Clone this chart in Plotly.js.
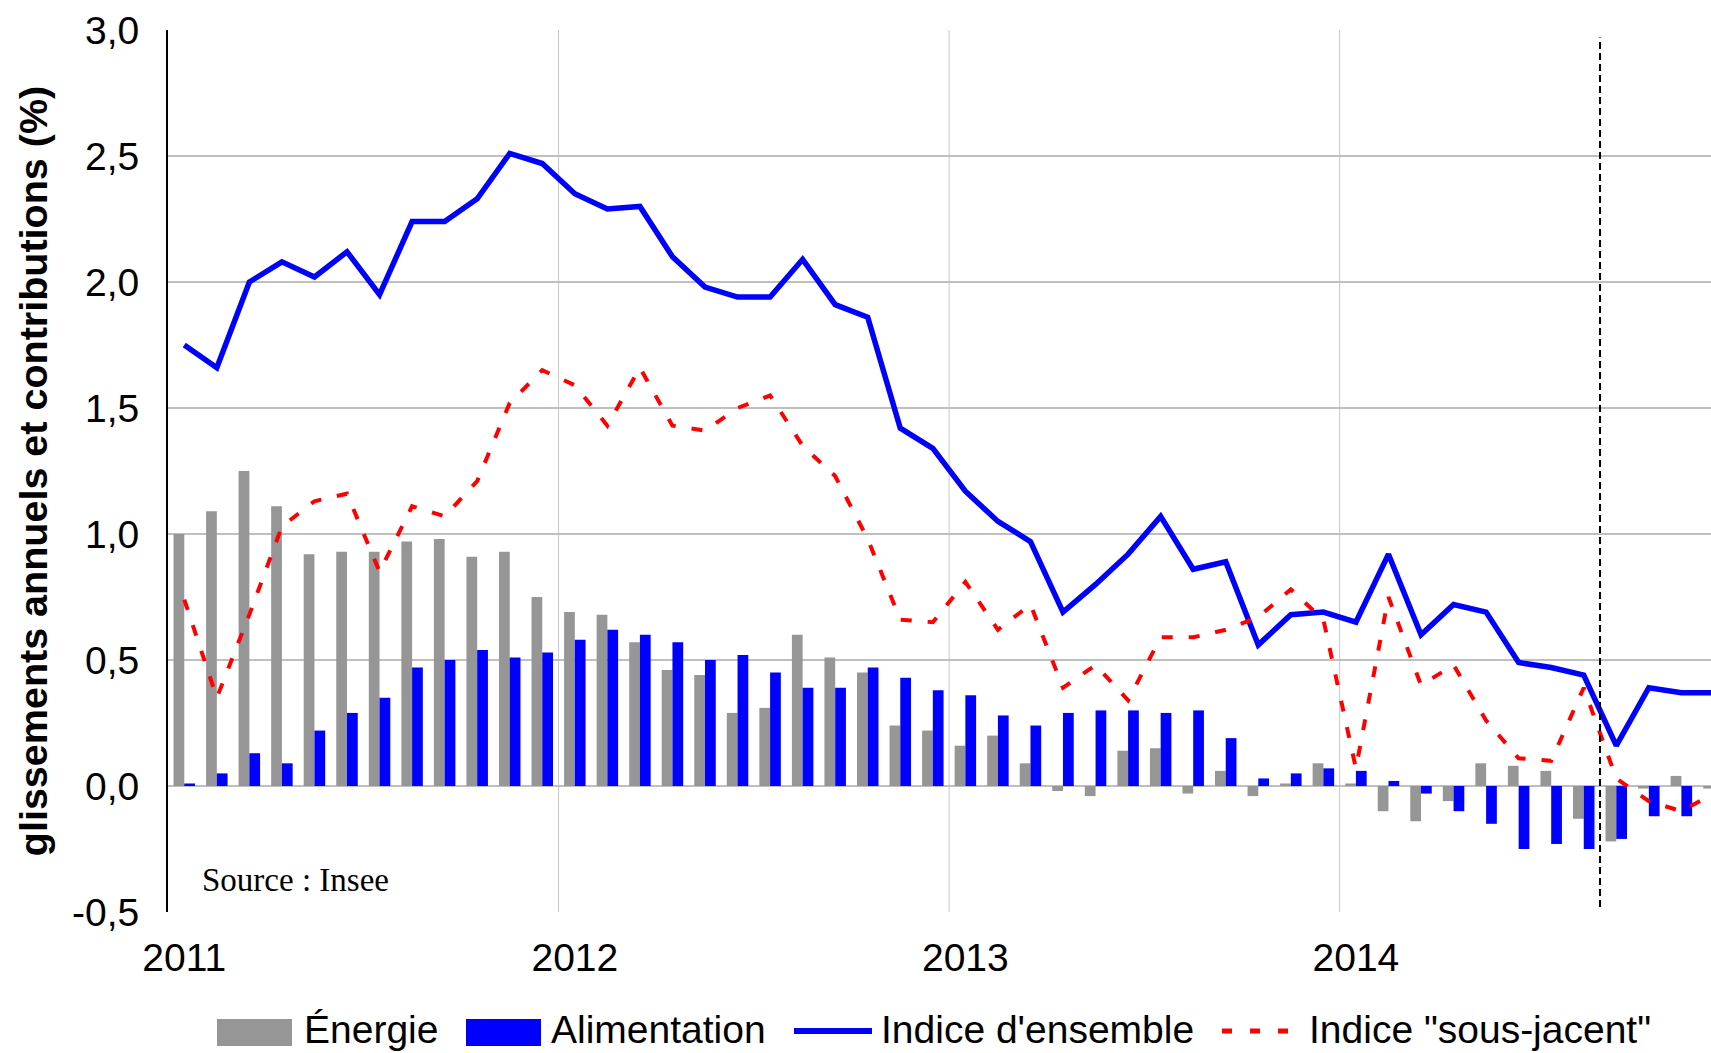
<!DOCTYPE html>
<html>
<head>
<meta charset="utf-8">
<script src="https://cdn.plot.ly/plotly-3.0.1.min.js"></script>
<style>
html,body{margin:0;padding:0;background:#ffffff;}
#chart{width:1711px;height:1053px;}
</style>
</head>
<body>
<div id="chart"></div>
<script>
// ---- Data ----
const months = [
  "2011-01","2011-02","2011-03","2011-04","2011-05","2011-06","2011-07","2011-08","2011-09","2011-10","2011-11","2011-12",
  "2012-01","2012-02","2012-03","2012-04","2012-05","2012-06","2012-07","2012-08","2012-09","2012-10","2012-11","2012-12",
  "2013-01","2013-02","2013-03","2013-04","2013-05","2013-06","2013-07","2013-08","2013-09","2013-10","2013-11","2013-12",
  "2014-01","2014-02","2014-03","2014-04","2014-05","2014-06","2014-07","2014-08","2014-09","2014-10","2014-11","2014-12"
];
const yearTicks = ["2011-01","2012-01","2013-01","2014-01"];
const yearLabels = ["2011","2012","2013","2014"];
const yTickVals = [-0.5,0,0.5,1.0,1.5,2.0,2.5,3.0];
const yTickText = ["-0,5","0,0","0,5","1,0","1,5","2,0","2,5","3,0"];

const energie = [
  1.00,1.09,1.25,1.11,0.92,0.93,0.93,0.97,0.98,0.91,0.93,0.75,
  0.69,0.68,0.57,0.46,0.44,0.29,0.31,0.60,0.51,0.45,0.24,0.22,
  0.16,0.20,0.09,-0.02,-0.04,0.14,0.15,-0.03,0.06,-0.04,0.01,0.09,
  0.01,-0.10,-0.14,-0.06,0.09,0.08,0.06,-0.13,-0.22,-0.01,0.04,-0.01
];
const alimentation = [
  0.01,0.05,0.13,0.09,0.22,0.29,0.35,0.47,0.50,0.54,0.51,0.53,
  0.58,0.62,0.60,0.57,0.50,0.52,0.45,0.39,0.39,0.47,0.43,0.38,
  0.36,0.28,0.24,0.29,0.30,0.30,0.29,0.30,0.19,0.03,0.05,0.07,
  0.06,0.02,-0.03,-0.10,-0.15,-0.25,-0.23,-0.25,-0.21,-0.12,-0.12,-0.11
];
const ensemble = [
  1.75,1.66,2.00,2.08,2.02,2.12,1.95,2.24,2.24,2.33,2.51,2.47,
  2.35,2.29,2.30,2.10,1.98,1.94,1.94,2.09,1.91,1.86,1.42,1.34,
  1.17,1.05,0.97,0.69,0.80,0.92,1.07,0.86,0.89,0.56,0.68,0.69,
  0.65,0.92,0.60,0.72,0.69,0.49,0.47,0.44,0.16,0.39,0.37,0.37
];
const sousJacent = [
  0.74,0.35,0.68,1.03,1.13,1.16,0.85,1.11,1.07,1.21,1.52,1.65,
  1.59,1.43,1.66,1.43,1.41,1.50,1.55,1.35,1.23,0.98,0.66,0.65,
  0.81,0.62,0.72,0.39,0.48,0.34,0.59,0.59,0.62,0.67,0.78,0.66,
  0.07,0.75,0.40,0.48,0.26,0.11,0.10,0.39,0.03,-0.06,-0.10,-0.03
];
const forecastMonth = "2014-09";   // dashed separator drawn before this month
const sourceText = "Source : Insee";
const yTitle = "glissements annuels et contributions (%)";
const seriesNames = ["Énergie","Alimentation","Indice d'ensemble","Indice \"sous-jacent\""];

// ---- Styling ----
const FONT = "Liberation Sans, Arial, Helvetica, sans-serif";
const GRAY = "#969696", BLUE = "#0000FF", RED = "#FF0000";
const RED_DASH = "11px,16px";

const traces = [
  {type:"bar", name:seriesNames[0], x:months, y:energie, marker:{color:GRAY}},
  {type:"bar", name:seriesNames[1], x:months, y:alimentation, marker:{color:BLUE}},
  {type:"scatter", mode:"lines", name:seriesNames[2], x:months, y:ensemble,
   line:{color:BLUE, width:5.5}},
  {type:"scatter", mode:"lines", name:seriesNames[3], x:months, y:sousJacent,
   line:{color:RED, width:4, dash:RED_DASH}}
];

// plot area in pixels (used for placing the legend drawn below the chart)
const M = {l:168, r:0, t:30, b:141};
const W = 1711, H = 1053;
const plotW = W - M.l - M.r, plotH = H - M.t - M.b;
const px = X => (X - M.l) / plotW;
const py = Y => (H - M.b - Y) / plotH;

const shapes = [];
// year separator grid lines (category boundaries)
yearTicks.slice(1).forEach(t => {
  const i = months.indexOf(t) - 0.5;
  shapes.push({type:"line", xref:"x", yref:"y", x0:i, x1:i, y0:-0.5, y1:3.0,
    layer:"below", line:{color:"#C8C8C8", width:1}});
});
const fIdx = months.indexOf(forecastMonth) - 0.5;
shapes.push({type:"line", xref:"x", yref:"y", x0:fIdx, x1:fIdx, y0:-0.48, y1:2.97,
  line:{color:"#000000", width:2, dash:"7px,4px"}});

// legend (bottom, Excel-like symbols)
const legendItems = [
  {kind:"rect", color:GRAY, s0:217, s1:292, tx:303, label:seriesNames[0]},
  {kind:"rect", color:BLUE, s0:466, s1:541, tx:550, label:seriesNames[1]},
  {kind:"line", color:BLUE, s0:794, s1:872, tx:880, label:seriesNames[2], width:6},
  {kind:"line", color:RED, s0:1222, s1:1289, tx:1308, label:seriesNames[3], width:5, dash:"10px,18px"}
];
const annotations = [];
legendItems.forEach(it => {
  if (it.kind === "rect") {
    shapes.push({type:"rect", xref:"paper", yref:"paper", x0:px(it.s0), x1:px(it.s1),
      y0:py(1046), y1:py(1019), fillcolor:it.color, line:{width:0}});
  } else {
    shapes.push({type:"line", xref:"paper", yref:"paper", x0:px(it.s0), x1:px(it.s1),
      y0:py(1031), y1:py(1031), line:{color:it.color, width:it.width, dash:it.dash || "solid"}});
  }
  annotations.push({text:it.label, xref:"paper", yref:"paper", x:px(it.tx), y:py(1029),
    xanchor:"left", yanchor:"middle", showarrow:false, borderpad:0,
    font:{family:FONT, size:39, color:"#000000"}});
});
annotations.push({text:sourceText, xref:"paper", yref:"paper", x:px(200), y:py(879.5),
  xanchor:"left", yanchor:"middle", showarrow:false,
  font:{family:"Liberation Serif, Times New Roman, serif", size:33, color:"#000000"}});

const layout = {
  width:W, height:H,
  margin:M,
  paper_bgcolor:"#ffffff", plot_bgcolor:"#ffffff",
  font:{family:FONT, color:"#000000", size:39},
  barmode:"group", bargap:0.34, bargroupgap:0,
  showlegend:false,
  xaxis:{type:"category", range:[-0.5, 46.91], tickmode:"array",
    tickvals:yearTicks, ticktext:yearLabels, showgrid:false, zeroline:false,
    showline:false, ticks:"", ticklabelstandoff:19,
    tickfont:{family:FONT, size:39, color:"#000000"}},
  yaxis:{range:[-0.5, 3.0], tickmode:"array", tickvals:yTickVals, ticktext:yTickText,
    showgrid:true, gridcolor:"#BFBFBF", gridwidth:2, zeroline:false,
    showline:true, linecolor:"#000000", linewidth:2, ticks:"", ticklabelstandoff:19,
    tickfont:{family:FONT, size:39, color:"#000000"},
    title:{text:yTitle, standoff:12, font:{family:FONT, size:39.5, weight:"bold", color:"#000000"}}},
  shapes:shapes,
  annotations:annotations
};

Plotly.newPlot("chart", traces, layout, {staticPlot:true, displayModeBar:false});
</script>
</body>
</html>
